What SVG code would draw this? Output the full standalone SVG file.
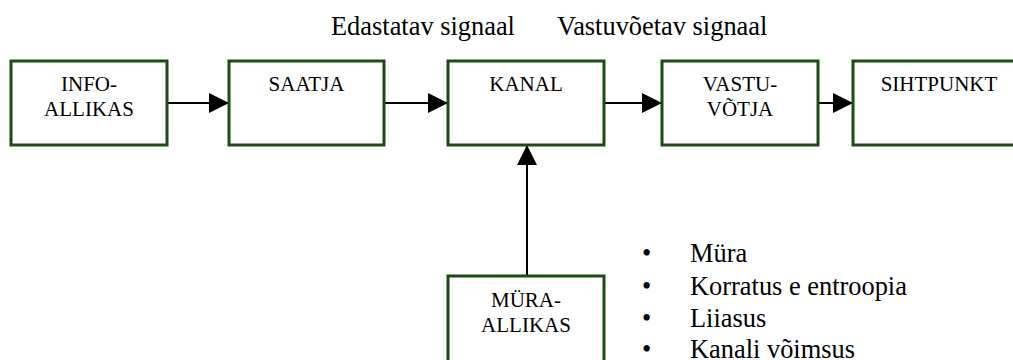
<svg xmlns="http://www.w3.org/2000/svg" width="1013" height="360" viewBox="0 0 1013 360" font-family="'Liberation Serif', 'Times New Roman', Times, serif">
  <style>
    .box { fill: #ffffff; stroke: #1f4a17; stroke-width: 3; }
    .lbl { font-family: 'Liberation Serif', 'Times New Roman', Times, serif; font-size: 21px; fill: #000; text-anchor: middle; }
    .cap { font-family: 'Liberation Serif', 'Times New Roman', Times, serif; font-size: 26.4px; fill: #000; }
    .wire { stroke: #000; stroke-width: 2; fill: none; marker-end: url(#head); }
  </style>
  <defs>
    <marker id="head" viewBox="0 0 20 20" refX="20" refY="10" markerWidth="20" markerHeight="20" markerUnits="userSpaceOnUse" orient="auto">
      <path d="M0,0 L20,10 L0,20 Z" fill="#000"/>
    </marker>
  </defs>

  <rect width="1013" height="360" fill="#ffffff"/>

  <!-- signal captions -->
  <text class="cap" x="331" y="35">Edastatav signaal</text>
  <text class="cap" x="557" y="35">Vastuvõetav signaal</text>

  <!-- connectors -->
  <g id="connectors">
    <line class="wire" x1="167" y1="103" x2="229" y2="103"/>
    <line class="wire" x1="384" y1="103" x2="448" y2="103"/>
    <line class="wire" x1="604" y1="103" x2="662" y2="103"/>
    <line class="wire" x1="818" y1="103" x2="853" y2="103"/>
    <line class="wire" x1="527" y1="276" x2="527" y2="145"/>
  </g>

  <g id="info-allikas">
    <rect class="box" x="11" y="61" width="156" height="84"/>
    <text class="lbl" x="89" y="91">INFO-</text>
    <text class="lbl" x="89" y="116">ALLIKAS</text>
  </g>

  <g id="saatja">
    <rect class="box" x="229" y="61" width="155" height="84"/>
    <text class="lbl" x="306.5" y="91">SAATJA</text>
  </g>

  <g id="kanal">
    <rect class="box" x="448" y="61" width="156" height="84"/>
    <text class="lbl" x="526" y="91">KANAL</text>
  </g>

  <g id="vastuvotja">
    <rect class="box" x="662" y="61" width="156" height="84"/>
    <text class="lbl" x="740" y="91">VASTU-</text>
    <text class="lbl" x="740" y="116">VÕTJA</text>
  </g>

  <g id="sihtpunkt">
    <rect class="box" x="853" y="61" width="172" height="84"/>
    <text class="lbl" x="939" y="91">SIHTPUNKT</text>
  </g>

  <g id="mura-allikas">
    <rect class="box" x="448" y="276" width="156" height="100"/>
    <text class="lbl" x="526" y="307">MÜRA-</text>
    <text class="lbl" x="526" y="332">ALLIKAS</text>
  </g>

  <!-- bullet list -->
  <g id="notes" class="cap">
    <text x="642" y="262">•</text><text x="690" y="262">Müra</text>
    <text x="642" y="295">•</text><text x="690" y="295">Korratus e entroopia</text>
    <text x="642" y="327">•</text><text x="690" y="327">Liiasus</text>
    <text x="642" y="358">•</text><text x="690" y="358">Kanali võimsus</text>
  </g>
</svg>
